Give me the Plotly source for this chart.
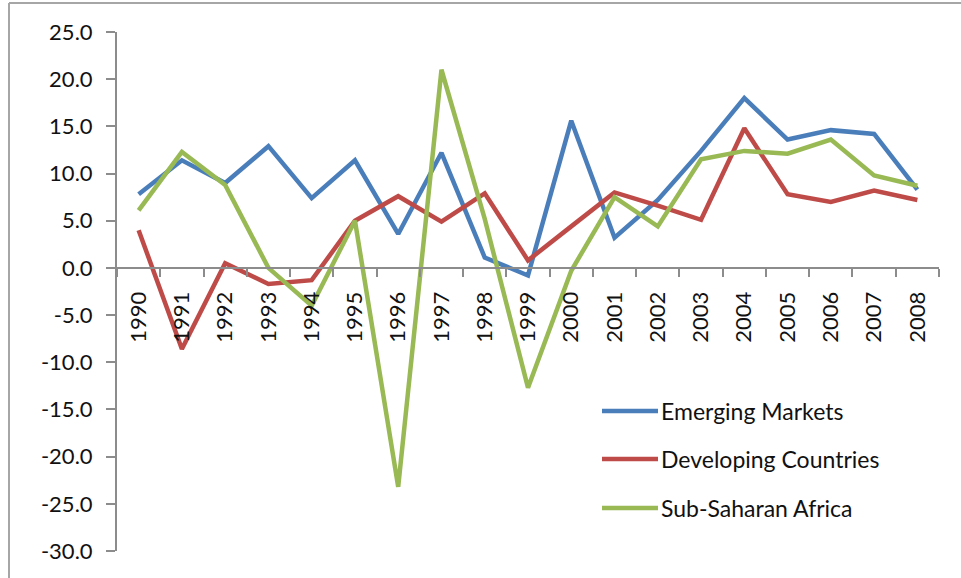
import plotly.graph_objects as go

# Annual values by group, 1990-2008
years = [str(y) for y in range(1990, 2009)]
emerging_markets = [7.8, 11.4, 9.0, 12.9, 7.4, 11.4, 3.6, 12.2, 1.1, -0.8,
                    15.6, 3.2, 7.2, 12.4, 18.0, 13.6, 14.6, 14.2, 8.3]
developing_countries = [4.0, -8.6, 0.5, -1.7, -1.3, 5.0, 7.6, 4.9, 7.9, 0.8,
                        4.4, 8.0, 6.6, 5.1, 14.8, 7.8, 7.0, 8.2, 7.2]
sub_saharan_africa = [6.1, 12.3, 8.8, 0.0, -4.0, 5.0, -23.2, 21.0, 5.2, -12.7,
                      -0.3, 7.5, 4.4, 11.5, 12.4, 12.1, 13.6, 9.8, 8.7]

series_names = ["Emerging Markets", "Developing Countries", "Sub-Saharan Africa"]
series_values = [emerging_markets, developing_countries, sub_saharan_africa]
series_colors = ["#4A7EBB", "#BE4B48", "#98B954"]

y_ticks = [25, 20, 15, 10, 5, 0, -5, -10, -15, -20, -25, -30]
y_min, y_max = -30, 25

FONT = "Lato"
AXIS_GRAY = "#8C8C8C"

W, H = 961, 578
ML, MR, MT, MB = 117, 22, 32, 27
plot_w = W - ML - MR
plot_h = H - MT - MB


def px_to_paper(px, py):
    return (px - ML) / plot_w, (H - MB - py) / plot_h


fig = go.Figure()
for name, vals, col in zip(series_names, series_values, series_colors):
    fig.add_trace(go.Scatter(
        x=years, y=vals, name=name, mode="lines",
        line=dict(color=col, width=4.5),
        showlegend=False,
    ))

# Legend block drawn as line samples with labels
shapes = []
annotations = []
row_y = [411, 459, 508]
for name, col, ry in zip(series_names, series_colors, row_y):
    x0, y0 = px_to_paper(602, ry)
    x1, _ = px_to_paper(658, ry)
    shapes.append(dict(type="line", xref="paper", yref="paper",
                       x0=x0, x1=x1, y0=y0, y1=y0,
                       line=dict(color=col, width=4.5)))
    tx, _ = px_to_paper(659, ry)
    annotations.append(dict(xref="paper", yref="paper", x=tx, y=y0,
                            text=name, showarrow=False, xanchor="left",
                            yanchor="middle",
                            font=dict(family=FONT, size=23, color="#111")))

# Chart frame edges (top and left)
fx0, fy0 = px_to_paper(9, 3)
fx1, _ = px_to_paper(961, 3)
_, fyb = px_to_paper(9, 578)
shapes.append(dict(type="line", xref="paper", yref="paper",
                   x0=fx0, x1=fx1, y0=fy0, y1=fy0,
                   line=dict(color="#A6A6A6", width=2)))
shapes.append(dict(type="line", xref="paper", yref="paper",
                   x0=fx0, x1=fx0, y0=fy0, y1=fyb,
                   line=dict(color="#A6A6A6", width=2)))

fig.update_layout(
    width=W, height=H,
    margin=dict(l=ML, r=MR, t=MT, b=MB, pad=0),
    paper_bgcolor="white", plot_bgcolor="white",
    shapes=shapes, annotations=annotations,
    xaxis=dict(
        type="category", anchor="free",
        range=[-0.5, len(years) - 0.5],
        position=(0 - y_min) / (y_max - y_min),
        showline=True, linecolor=AXIS_GRAY, linewidth=2,
        ticks="outside", tickson="boundaries", ticklen=8,
        tickcolor=AXIS_GRAY, tickwidth=2,
        tickangle=-90, ticklabelstandoff=14,
        tickfont=dict(family=FONT, size=22, color="#111"),
        showgrid=False, zeroline=False,
    ),
    yaxis=dict(
        range=[y_min, y_max], domain=[0, 1],
        tickvals=y_ticks, ticktext=[f"{v:.1f}" for v in y_ticks],
        showline=True, linecolor=AXIS_GRAY, linewidth=2,
        ticks="outside", ticklen=9, tickcolor=AXIS_GRAY, tickwidth=2,
        ticklabelstandoff=9,
        tickfont=dict(family=FONT, size=22, color="#111"),
        showgrid=False, zeroline=False,
    ),
)

fig.write_html("out.html")
